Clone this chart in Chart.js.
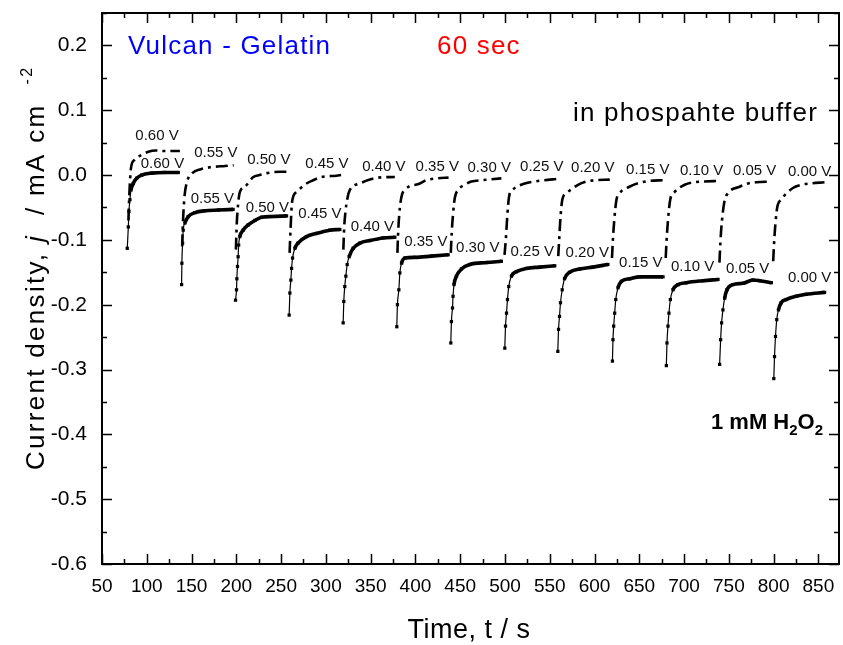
<!DOCTYPE html>
<html><head><meta charset="utf-8">
<script src="https://cdn.jsdelivr.net/npm/chart.js@4.4.1/dist/chart.umd.min.js"></script>
<style>html,body{margin:0;padding:0;background:#fff;}#wrap{width:843px;height:645px;}</style>
</head><body><div id="wrap"><canvas id="c" width="843" height="645"></canvas></div>
<script>
// ---- data ----
const potentials = ['0.60 V','0.55 V','0.50 V','0.45 V','0.40 V','0.35 V','0.30 V','0.25 V','0.20 V','0.15 V','0.10 V','0.05 V','0.00 V'];

// phosphate buffer (dash-dot curves): time (s) per step
const bufferTimes = [
  [79.5,80.5,82.4,86,94,101.7,110,120,137],
  [139.5,140.5,142,144.6,150.9,160.5,170.5,187.3,197],
  [199.5,200.5,202,204,209.6,219,226,234,249,257],
  [259.5,260.5,262.3,267.2,278.4,285.8,295,311.8,317],
  [319.5,320.5,322,324,326.8,338,349.1,358.4,377],
  [379.9,380.5,382,384.5,388.2,405,412,425,437],
  [439.5,440.5,442,444,447.7,455,462.6,473.8,481.2,496],
  [499.5,500.9,502.5,504.6,508.4,522.1,533.3,543.3,557.5],
  [559.5,560.5,562,564,568.7,581.6,590.9,600,617],
  [619.5,620.5,622,624.5,628,639,650.5,661.6,676.4],
  [679.5,680.5,682,684.5,689.5,700.7,711.8,722.9,737.8],
  [739.5,740.5,742,745,749,762,771.3,780.6,797.3],
  [799.5,800.5,802,804,808.5,821.5,830.8,840.2,856.9]
];
// phosphate buffer: current density (mA cm-2)
const bufferValues = [
  [-0.07,-0.03,0.011,0.023,0.031,0.036,0.038,0.037,0.037],
  [-0.11,-0.07,-0.035,-0.012,0.003,0.009,0.012,0.014,0.015],
  [-0.115,-0.075,-0.045,-0.026,-0.018,-0.003,0.0,0.003,0.005,0.005],
  [-0.12,-0.085,-0.041,-0.026,-0.013,-0.008,-0.003,-0.001,0.0],
  [-0.115,-0.08,-0.055,-0.036,-0.023,-0.013,-0.007,-0.004,-0.003],
  [-0.12,-0.095,-0.06,-0.033,-0.023,-0.013,-0.008,-0.005,-0.004],
  [-0.12,-0.09,-0.06,-0.035,-0.023,-0.015,-0.010,-0.008,-0.007,-0.005],
  [-0.123,-0.10,-0.065,-0.033,-0.023,-0.013,-0.010,-0.008,-0.006],
  [-0.125,-0.10,-0.065,-0.038,-0.028,-0.015,-0.010,-0.008,-0.007],
  [-0.128,-0.10,-0.07,-0.038,-0.028,-0.018,-0.012,-0.009,-0.008],
  [-0.128,-0.10,-0.07,-0.038,-0.026,-0.015,-0.011,-0.010,-0.009],
  [-0.135,-0.105,-0.075,-0.041,-0.028,-0.018,-0.013,-0.011,-0.010],
  [-0.133,-0.105,-0.075,-0.05,-0.038,-0.020,-0.015,-0.013,-0.011]
];

// 1 mM H2O2 (solid curves with square markers): time (s) per step
const peroxideTimes = [
  [78.2,79.4,80.1,81.2,82.4,84.9,88.7,94.3,105.5,120,135.2],
  [138.9,139.2,140,140.7,142.6,146.3,153.8,164.9,180,196.4],
  [199.1,200.2,200.6,201.3,202.0,202.6,203.9,207.6,213.2,220.7,228.2,240,256.1],
  [259,259.8,260.9,261.7,262.8,265.4,268.9,278.3,289.5,304.4,315.6],
  [319.3,320,321.1,322.3,323.8,326,330.5,338,349.1,364,377],
  [379.2,379.9,381.5,382.6,384.5,388.2,399.3,417.9,436.5],
  [439.5,440.2,441.4,442,443.1,445.8,451.4,460.7,479.3,496],
  [499.8,500.6,501.7,502.8,504.2,507.2,512.8,524,538.8,555.6],
  [559,559.8,560.9,562,563.9,566.5,572.1,583.3,598.2,614.9],
  [620,620.6,621.4,622.5,623.7,626.2,630,639.3,650.5,676.5],
  [680.2,680.9,682,683.1,684.7,687.6,693.2,702.5,721.1,737.9],
  [739.7,740.8,741.9,743.4,745.3,747.9,754.6,765.8,776.9,784.4,797.5],
  [800.2,801,802.1,803.5,805.4,808.4,814,825.2,836.3,856.9]
];
// 1 mM H2O2: current density (mA cm-2)
const peroxideValues = [
  [-0.113,-0.080,-0.056,-0.038,-0.023,-0.013,-0.005,0.000,0.003,0.004,0.004],
  [-0.169,-0.136,-0.105,-0.085,-0.074,-0.064,-0.058,-0.055,-0.054,-0.053],
  [-0.193,-0.177,-0.160,-0.141,-0.126,-0.108,-0.095,-0.085,-0.077,-0.070,-0.065,-0.064,-0.063],
  [-0.216,-0.182,-0.162,-0.144,-0.128,-0.113,-0.105,-0.095,-0.090,-0.085,-0.084],
  [-0.228,-0.195,-0.172,-0.156,-0.138,-0.126,-0.113,-0.105,-0.101,-0.097,-0.096],
  [-0.234,-0.200,-0.177,-0.151,-0.136,-0.128,-0.127,-0.125,-0.123],
  [-0.259,-0.226,-0.205,-0.187,-0.169,-0.156,-0.145,-0.138,-0.135,-0.133],
  [-0.267,-0.233,-0.213,-0.192,-0.172,-0.156,-0.149,-0.144,-0.142,-0.140],
  [-0.272,-0.238,-0.218,-0.197,-0.177,-0.160,-0.150,-0.145,-0.142,-0.138],
  [-0.287,-0.254,-0.233,-0.213,-0.192,-0.174,-0.164,-0.160,-0.157,-0.157],
  [-0.294,-0.259,-0.233,-0.213,-0.192,-0.177,-0.169,-0.166,-0.163,-0.161],
  [-0.292,-0.254,-0.228,-0.208,-0.190,-0.177,-0.169,-0.167,-0.162,-0.163,-0.166],
  [-0.314,-0.280,-0.249,-0.223,-0.208,-0.197,-0.192,-0.187,-0.184,-0.181]
];

// axis ranges / tick values
const xRange = [50, 873];
const yRange = [-0.6, 0.25];
const xTicks = [50,100,150,200,250,300,350,400,450,500,550,600,650,700,750,800,850];
const yTicks = [-0.6,-0.5,-0.4,-0.3,-0.2,-0.1,0.0,0.1,0.2];

// label anchors (data coords) for the potential annotations
const bufferLabelAt = [[111.4,0.060],[177.2,0.034],[236.4,0.023],[301.1,0.018],[364.7,0.012],[424.4,0.012],[482.4,0.011],[541.1,0.012],[598,0.011],[659.4,0.008],[719.6,0.006],[778.8,0.006],[840.2,0.005]];
const peroxideLabelAt = [[117.5,0.018],[173.3,-0.037],[234.7,-0.051],[293.3,-0.060],[351.9,-0.080],[411.6,-0.103],[469.6,-0.113],[530.5,-0.118],[591.9,-0.120],[651.6,-0.136],[709.6,-0.142],[771,-0.144],[840.2,-0.158]];

// ---- build line data with gaps between potential steps ----
function build(times, values){
  const out = [];
  times.forEach((seg, i) => {
    seg.forEach((t, k) => out.push({x: t, y: values[i][k]}));
    if (i < times.length - 1) out.push({x: (seg[seg.length-1] + times[i+1][0]) / 2, y: null});
  });
  return out;
}

const FONT = "'Liberation Sans', Arial, sans-serif";

const framePlugin = {
  id: 'frame',
  afterDatasetsDraw(chart){
    const {ctx, chartArea: a, scales: {x, y}} = chart;
    ctx.save();
    ctx.strokeStyle = '#000';
    ctx.lineWidth = 2;
    ctx.strokeRect(a.left, a.top, a.right - a.left, a.bottom - a.top);
    ctx.lineWidth = 1.5;
    ctx.beginPath();
    const xStep = xTicks[1] - xTicks[0];
    for (let v = xTicks[0]; v <= xRange[1] + 1e-9; v += xStep / 2) {
      const px = Math.round(x.getPixelForValue(v)) + 0.5;
      const major = Math.abs((v - xTicks[0]) % xStep) < 1e-6;
      const len = major ? 10 : 5;
      ctx.moveTo(px, a.bottom); ctx.lineTo(px, a.bottom - len);
      ctx.moveTo(px, a.top); ctx.lineTo(px, a.top + len);
    }
    const yStep = yTicks[1] - yTicks[0];
    for (let i = 0; ; i++) {
      const v = yTicks[0] + i * yStep / 2;
      if (v > yRange[1] + 1e-9) break;
      const py = Math.round(y.getPixelForValue(v)) + 0.5;
      const len = (i % 2 === 0) ? 10 : 5;
      ctx.moveTo(a.left, py); ctx.lineTo(a.left + len, py);
      ctx.moveTo(a.right, py); ctx.lineTo(a.right - len, py);
    }
    ctx.stroke();

    // potential labels
    ctx.font = '15px ' + FONT;
    ctx.fillStyle = '#111';
    ctx.textAlign = 'center';
    ctx.textBaseline = 'middle';
    potentials.forEach((p, i) => {
      ctx.fillText(p, x.getPixelForValue(bufferLabelAt[i][0]), y.getPixelForValue(bufferLabelAt[i][1]));
      ctx.fillText(p, x.getPixelForValue(peroxideLabelAt[i][0]), y.getPixelForValue(peroxideLabelAt[i][1]));
    });

    // annotations
    ctx.textAlign = 'left';
    ctx.textBaseline = 'alphabetic';
    ctx.font = '26px ' + FONT;
    ctx.letterSpacing = '1.2px';
    ctx.fillStyle = '#0000ff';
    ctx.fillText('Vulcan - Gelatin', 128, 54);
    ctx.fillStyle = '#ff0000';
    ctx.fillText('60 sec', 437, 54);
    ctx.fillStyle = '#000';
    ctx.textAlign = 'right';
    ctx.fillText('in phospahte buffer', 818, 121);
    ctx.letterSpacing = '0px';

    // 1 mM H2O2
    ctx.textAlign = 'left';
    let cx = 711;
    const base = 429;
    const parts = [['1 mM H', 'bold 22px', 0], ['2', 'bold 15px', 6], ['O', 'bold 22px', 0], ['2', 'bold 15px', 6]];
    parts.forEach(([t, f, dy]) => { ctx.font = f + ' ' + FONT; ctx.fillText(t, cx, base + dy); cx += ctx.measureText(t).width; });

    // axis titles
    ctx.font = '27px ' + FONT;
    ctx.textAlign = 'center';
    ctx.letterSpacing = '0.5px';
    ctx.fillText('Time, t / s', 469, 638);

    ctx.translate(44, 470);
    ctx.rotate(-Math.PI / 2);
    ctx.textAlign = 'left';
    let tx = 0;
    const yparts = [['Current density, ', '26px', 0], ['j', 'italic 26px', 0], ['  / mA cm  ', '26px', 0], ['-2', '16px', -12]];
    ctx.letterSpacing = '2.3px';
    yparts.forEach(([t, f, dy]) => { ctx.font = f + ' ' + FONT; ctx.fillText(t, tx, dy); tx += ctx.measureText(t).width; });
    ctx.restore();
  }
};

new Chart(document.getElementById('c'), {
  type: 'line',
  data: {
    datasets: [
      {
        label: 'in phosphate buffer',
        data: build(bufferTimes, bufferValues),
        borderColor: '#000',
        borderWidth: 2.6,
        borderDash: [12, 5, 3, 5],
        pointRadius: 0,
        cubicInterpolationMode: 'monotone',
        spanGaps: false
      },
      {
        label: '1 mM H2O2',
        data: build(peroxideTimes, peroxideValues),
        borderColor: '#000',
        backgroundColor: '#000',
        borderWidth: 1.2,
        pointStyle: 'rect',
        pointRadius: 2.3,
        pointBorderWidth: 0,
        pointBackgroundColor: '#000',
        cubicInterpolationMode: 'monotone',
        spanGaps: false,
        segment: {
          borderWidth: ctx => {
            const dx = Math.abs(ctx.p1.parsed.x - ctx.p0.parsed.x) || 1e-6;
            const dy = Math.abs(ctx.p1.parsed.y - ctx.p0.parsed.y);
            return dy / dx > 0.005 ? 1.2 : 3.6;
          }
        }
      }
    ]
  },
  options: {
    responsive: false,
    animation: false,
    devicePixelRatio: 1,
    layout: {padding: {top: 13, right: 2, left: 0, bottom: 0}},
    plugins: {legend: {display: false}, tooltip: {enabled: false}, title: {display: false}},
    scales: {
      x: {
        type: 'linear',
        min: xRange[0], max: xRange[1],
        grid: {display: false, drawTicks: false},
        border: {display: false},
        afterBuildTicks: s => { s.ticks = xTicks.map(v => ({value: v})); },
        ticks: {autoSkip: false, maxRotation: 0, padding: 11,
          color: '#000', font: {family: FONT, size: 19}, callback: v => String(v)},
        afterFit: s => { s.height = 81; s.paddingLeft = 0; s.paddingRight = 0; }
      },
      y: {
        type: 'linear',
        min: yRange[0], max: yRange[1],
        grid: {display: false, drawTicks: false},
        border: {display: false},
        afterBuildTicks: s => { s.ticks = yTicks.map(v => ({value: v})); },
        ticks: {autoSkip: false, padding: 15,
          color: '#000', font: {family: FONT, size: 21}, callback: v => Number(v).toFixed(1)},
        afterFit: s => { s.width = 102; s.paddingTop = 0; s.paddingBottom = 0; }
      }
    }
  },
  plugins: [framePlugin]
});
</script></body></html>
